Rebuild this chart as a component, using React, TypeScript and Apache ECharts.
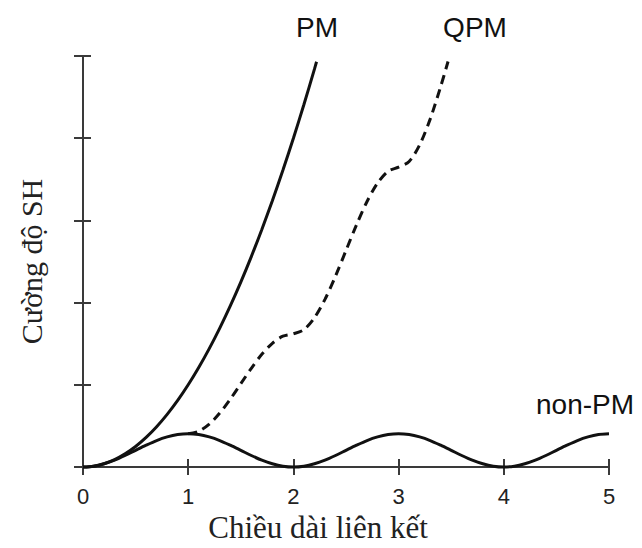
import React, { useEffect, useRef } from "react";
import * as echarts from "echarts";

// X tick values (labels shown) and Y ticks (no labels)
const xTickMax = 5;
const yTickMax = 5;

// PM curve
const pmX = [0, 0.1, 0.2, 0.3, 0.4, 0.5, 0.6, 0.7, 0.8, 0.9, 1.0, 1.1, 1.2, 1.3, 1.4, 1.5, 1.6, 1.7, 1.8, 1.9, 2.0, 2.1, 2.2, 2.22];
const pmY = [0, 0.01, 0.04, 0.09, 0.16, 0.25, 0.36, 0.49, 0.64, 0.81, 1.0, 1.21, 1.44, 1.69, 1.96, 2.25, 2.56, 2.89, 3.24, 3.61, 4.0, 4.41, 4.84, 4.93];

// QPM curve (dashed)
const qpmX = [1.0, 1.1, 1.2, 1.3, 1.4, 1.5, 1.6, 1.7, 1.8, 1.9, 2.0, 2.1, 2.2, 2.3, 2.4, 2.5, 2.6, 2.7, 2.8, 2.9, 3.0, 3.1, 3.2, 3.3, 3.4, 3.47];
const qpmY = [0.405, 0.435, 0.521, 0.656, 0.825, 1.013, 1.201, 1.371, 1.505, 1.591, 1.621, 1.671, 1.815, 2.039, 2.321, 2.634, 2.947, 3.23, 3.454, 3.598, 3.648, 3.717, 3.918, 4.232, 4.628, 4.933];

// non-PM curve
const nonPmX = [
  0, 0.1, 0.2, 0.3, 0.4, 0.5, 0.6, 0.7, 0.8, 0.9,
  1.0, 1.1, 1.2, 1.3, 1.4, 1.5, 1.6, 1.7, 1.8, 1.9,
  2.0, 2.1, 2.2, 2.3, 2.4, 2.5, 2.6, 2.7, 2.8, 2.9,
  3.0, 3.1, 3.2, 3.3, 3.4, 3.5, 3.6, 3.7, 3.8, 3.9,
  4.0, 4.1, 4.2, 4.3, 4.4, 4.5, 4.6, 4.7, 4.8, 4.9, 5.0,
];
const nonPmY = [
  0, 0.01, 0.039, 0.083, 0.14, 0.203, 0.265, 0.322, 0.366, 0.395,
  0.405, 0.395, 0.366, 0.322, 0.265, 0.203, 0.14, 0.083, 0.039, 0.01,
  0, 0.01, 0.039, 0.083, 0.14, 0.203, 0.265, 0.322, 0.366, 0.395,
  0.405, 0.395, 0.366, 0.322, 0.265, 0.203, 0.14, 0.083, 0.039, 0.01,
  0, 0.01, 0.039, 0.083, 0.14, 0.203, 0.265, 0.322, 0.366, 0.395, 0.405,
];

const xTitle = "Chiều dài liên kết";
const yTitle = "Cường độ SH";
const seriesLabels = ["PM", "QPM", "non-PM"];

const zip = (xs: number[], ys: number[]) => xs.map((x, i) => [x, ys[i]]);

export default function App() {
  const ref = useRef<HTMLDivElement>(null);
  useEffect(() => {
    document.body.style.margin = "0";
    const chart = echarts.init(ref.current!, null, { renderer: "svg" });
    const axisColor = "#3a3a3a";
    const tickStyle = { color: axisColor, width: 2 };
    const sans = "Liberation Sans";
    const serif = "Liberation Serif";
    const curve = { color: "#111", width: 3 };
    chart.setOption({
      animation: false,
      backgroundColor: "#ffffff",
      grid: { left: 83, right: 33, top: 56, bottom: 81, containLabel: false },
      xAxis: [
        {
          type: "value",
          min: 0,
          max: xTickMax,
          interval: 1,
          position: "bottom",
          axisLine: { show: true, onZero: false, lineStyle: { color: axisColor, width: 2 } },
          axisTick: { show: true, length: 8, lineStyle: tickStyle },
          axisLabel: { fontSize: 22, color: "#222", margin: 18, fontFamily: sans },
          splitLine: { show: false },
        },
        {
          type: "value",
          min: 0,
          max: xTickMax,
          interval: 1,
          position: "bottom",
          axisLine: { show: false, onZero: false },
          axisTick: { show: true, inside: true, length: 8, lineStyle: tickStyle },
          axisLabel: { show: false },
          splitLine: { show: false },
        },
      ],
      yAxis: [
        {
          type: "value",
          min: 0,
          max: yTickMax,
          interval: 1,
          position: "left",
          axisLine: { show: true, onZero: false, lineStyle: { color: axisColor, width: 2 } },
          axisTick: { show: true, length: 9, lineStyle: tickStyle },
          axisLabel: { show: false },
          splitLine: { show: false },
          name: yTitle,
          nameLocation: "middle",
          nameGap: 37,
          nameRotate: 90,
          nameTextStyle: { fontFamily: serif, fontSize: 30, color: "#222" },
        },
        {
          type: "value",
          min: 0,
          max: yTickMax,
          interval: 1,
          position: "left",
          axisLine: { show: false, onZero: false },
          axisTick: { show: true, inside: true, length: 8, lineStyle: tickStyle },
          axisLabel: { show: false },
          splitLine: { show: false },
        },
      ],
      series: [
        {
          name: seriesLabels[2],
          type: "line",
          data: zip(nonPmX, nonPmY),
          showSymbol: false,
          smooth: 0.3,
          clip: false,
          lineStyle: curve,
        },
        {
          name: seriesLabels[0],
          type: "line",
          data: zip(pmX, pmY),
          showSymbol: false,
          smooth: 0.3,
          clip: false,
          lineStyle: curve,
        },
        {
          name: seriesLabels[1],
          type: "line",
          data: zip(qpmX, qpmY),
          showSymbol: false,
          smooth: 0.3,
          clip: false,
          lineStyle: { ...curve, type: [9, 6] },
        },
      ],
      graphic: [
        {
          type: "text",
          x: 318,
          y: 527,
          style: { text: xTitle, font: `31px "${serif}"`, fill: "#222", textAlign: "center", textVerticalAlign: "middle" },
        },
        {
          type: "text",
          x: 317,
          y: 27,
          style: { text: seriesLabels[0], font: `28px "${sans}"`, fill: "#111", textAlign: "center", textVerticalAlign: "middle" },
        },
        {
          type: "text",
          x: 475,
          y: 27,
          style: { text: seriesLabels[1], font: `28px "${sans}"`, fill: "#111", textAlign: "center", textVerticalAlign: "middle" },
        },
        {
          type: "text",
          x: 585,
          y: 404,
          style: { text: seriesLabels[2], font: `28px "${sans}"`, fill: "#111", textAlign: "center", textVerticalAlign: "middle" },
        },
      ],
    });
    return () => chart.dispose();
  }, []);
  return <div ref={ref} style={{ width: 642, height: 548, background: "#fff" }} />;
}
